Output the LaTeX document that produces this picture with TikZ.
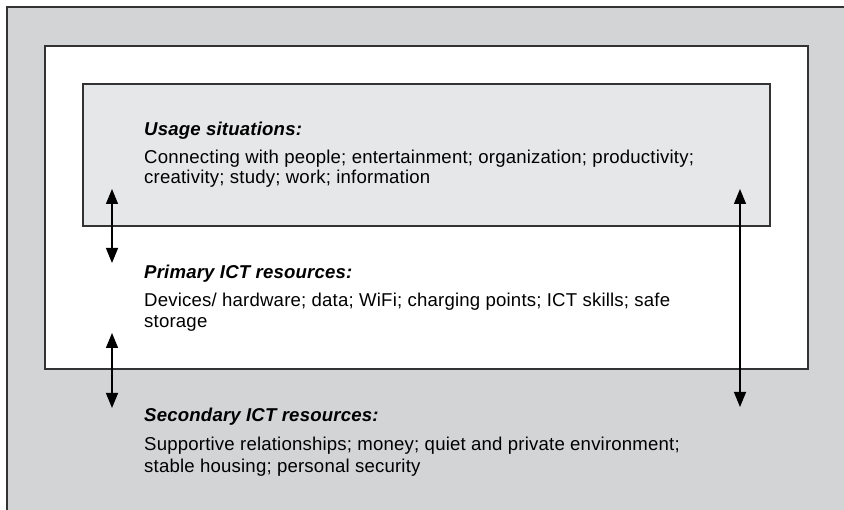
\documentclass[tikz,border=0pt]{standalone}
\usepackage{fontspec}
\setmainfont{Liberation Sans}[LetterSpace=1]
\usetikzlibrary{arrows.meta}
\definecolor{outergray}{HTML}{D3D4D6}
\definecolor{innergray}{HTML}{E6E7E8}
\definecolor{framegray}{HTML}{333333}
\begin{document}
\begin{tikzpicture}[x=1pt,y=-1pt,
  frame/.style={draw=framegray,line width=1.5pt},
  heading/.style={anchor=base west,inner sep=0pt,font=\fontsize{18.6}{21}\selectfont\bfseries\itshape},
  bodyline/.style={anchor=base west,inner sep=0pt,font=\fontsize{18.6}{21}\selectfont},
  link/.style={line width=1.2pt,{Triangle[width=12pt,length=15pt]}-{Triangle[width=12pt,length=15pt]}}]
\useasboundingbox (0,0) rectangle (844,510);
\begin{scope}
\clip (0,0) rectangle (844,510);
% secondary resources: outer band
\draw[frame,fill=outergray] (7,7) rectangle (860,530);
\end{scope}
% primary resources: white frame
\draw[frame,fill=white] (45,46) rectangle (808,369);
% usage situations: inner box
\draw[frame,fill=innergray] (83,84) rectangle (770,226);

% usage situations
\node[heading]  (usageT)  at (144,136) {Usage situations:};
\node[bodyline] (usage1)  at (144,164) {Connecting with people; entertainment; organization; productivity;};
\node[bodyline] (usage2)  at (144,184) {creativity; study; work; information};

% primary ICT resources
\node[heading]  (primT)   at (144,279) {Primary ICT resources:};
\node[bodyline] (prim1)   at (144,307) {Devices/ hardware; data; WiFi; charging points; ICT skills; safe};
\node[bodyline] (prim2)   at (144,328) {storage};

% secondary ICT resources
\node[heading]  (secT)    at (144,422) {Secondary ICT resources:};
\node[bodyline] (sec1)    at (144,451) {Supportive relationships; money; quiet and private environment;};
\node[bodyline] (sec2)    at (144,473) {stable housing; personal security};

% two-way links between the layers
\coordinate (a1) at (112,189);
\coordinate (b1) at (112,263);
\coordinate (a2) at (112,333);
\coordinate (b2) at (112,408);
\coordinate (a3) at (740,189);
\coordinate (b3) at (740,407);
\draw[link] (a1) -- (b1);
\draw[link] (a2) -- (b2);
\draw[link] (a3) -- (b3);
\end{tikzpicture}
\end{document}
